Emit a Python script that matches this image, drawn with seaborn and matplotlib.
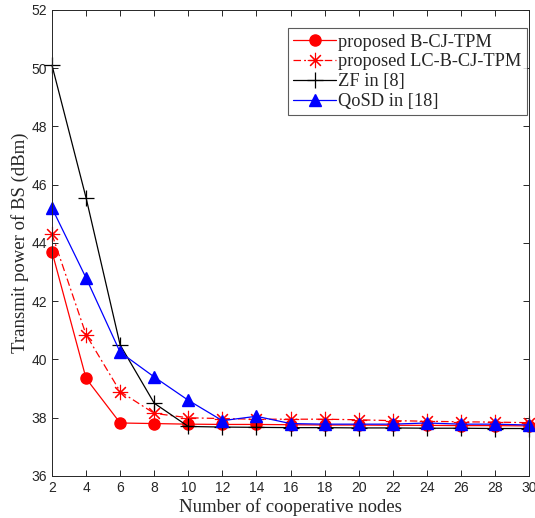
import matplotlib
matplotlib.use('Agg')
import matplotlib.pyplot as plt
import seaborn as sns
import pandas as pd

# --- Data ---
nodes = [2, 4, 6, 8, 10, 12, 14, 16, 18, 20, 22, 24, 26, 28, 30]
b_cj_tpm = [43.7, 39.35, 37.82, 37.8, 37.78, 37.77, 37.77, 37.76, 37.75, 37.75, 37.74, 37.74, 37.73, 37.73, 37.72]
lc_b_cj_tpm = [44.3, 40.85, 38.9, 38.15, 38.0, 37.97, 37.95, 37.95, 37.95, 37.93, 37.9, 37.88, 37.86, 37.85, 37.83]
zf = [50.1, 45.55, 40.5, 38.5, 37.7, 37.68, 37.67, 37.66, 37.66, 37.65, 37.65, 37.64, 37.64, 37.63, 37.63]
qosd = [45.2, 42.8, 40.25, 39.4, 38.6, 37.9, 38.05, 37.8, 37.78, 37.78, 37.78, 37.82, 37.78, 37.78, 37.75]

series_names = ['proposed B-CJ-TPM', 'proposed LC-B-CJ-TPM', 'ZF in [8]', 'QoSD in [18]']
series_values = [b_cj_tpm, lc_b_cj_tpm, zf, qosd]

# colour, marker, linestyle, marker size, edge width
styles = [
    ('#ff0000', 'o', '-', 8, 1.0),
    ('#ff0000', (8, 2, 0), (0, (6, 2.5, 1.5, 2.5)), 11, 0.8),
    ('#000000', '+', '-', 11, 0.9),
    ('#0000ff', '^', '-', 9, 1.0),
]

sns.set_style('ticks')
plt.rcParams['font.family'] = ['Liberation Sans', 'DejaVu Sans']

fig = plt.figure(figsize=(5.35, 5.18), dpi=100)
ax = fig.add_axes([0.0972, 0.0811, 0.8916, 0.8996])

for name, vals, (col, mk, ls, ms, mew) in zip(series_names, series_values, styles):
    d = pd.DataFrame({'nodes': nodes, 'power': vals})
    sns.lineplot(data=d, x='nodes', y='power', ax=ax, color=col, marker=mk,
                 linestyle=ls, linewidth=0.9, markersize=ms, markeredgewidth=mew,
                 markeredgecolor=col, markerfacecolor=col, label=name, clip_on=False)

ax.set_xlim(2, 30)
ax.set_ylim(36, 52)
ax.set_xticks(range(2, 31, 2))
ax.set_yticks(range(36, 53, 2))
ax.tick_params(direction='in', top=True, right=True, labelsize=10, length=4,
               width=0.7, colors='#262626', pad=3.5)
for s in ax.spines.values():
    s.set_linewidth(0.7)
    s.set_color('#262626')
    s.set_visible(True)

ax.set_xlabel('Number of cooperative nodes', family='Liberation Serif', fontsize=13.5,
              labelpad=2, color='#262626')
ax.set_ylabel('Transmit power of BS (dBm)', family='Liberation Serif', fontsize=13.5,
              labelpad=2, color='#262626')

leg = ax.legend(loc='upper right', bbox_to_anchor=(0.996, 0.961),
                prop={'family': 'Liberation Serif', 'size': 13.2}, frameon=True,
                fancybox=False, edgecolor='#333333', handlelength=2.35,
                handletextpad=0.1, labelspacing=0.15, borderpad=0.3,
                borderaxespad=0)
leg.get_frame().set_linewidth(0.8)

fig.savefig('out.png', dpi=100)
